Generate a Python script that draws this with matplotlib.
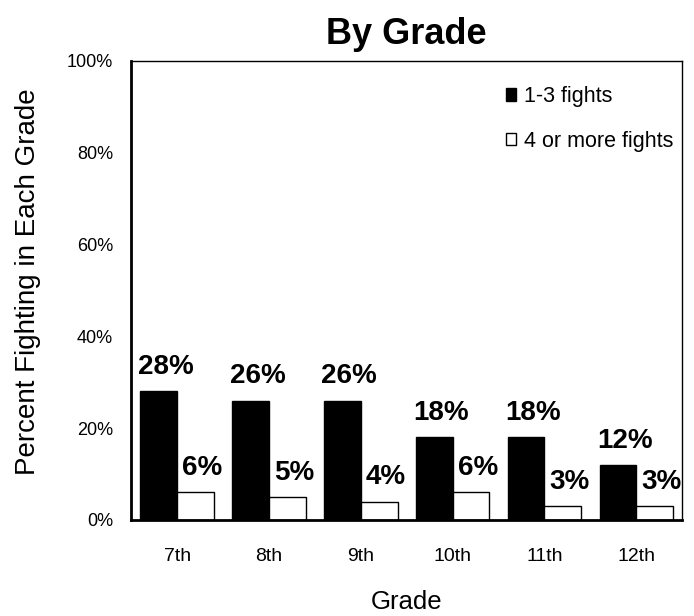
import numpy as np
import matplotlib.pyplot as plt

plt.rcParams['font.family'] = ['Liberation Sans', 'DejaVu Sans']

grades = ['7th', '8th', '9th', '10th', '11th', '12th']
fights_1_3 = [28, 26, 26, 18, 18, 12]
fights_4_plus = [6, 5, 4, 6, 3, 3]

fig = plt.figure(figsize=(6.94, 6.16), dpi=100)
ax = fig.add_axes([0.189, 0.156, 0.794, 0.745])

x = np.arange(len(grades))
w = 0.4
b1 = ax.bar(x - w / 2, fights_1_3, w, color='black', edgecolor='black', linewidth=1, label='1-3 fights')
b2 = ax.bar(x + w / 2, fights_4_plus, w, color='white', edgecolor='black', linewidth=1, label='4 or more fights')

for bars, vals in [(b1, fights_1_3), (b2, fights_4_plus)]:
    for bar, v in zip(bars, vals):
        ax.annotate(f'{v}%', (bar.get_x() + bar.get_width() / 2, v),
                    xytext=(5, 8), textcoords='offset points',
                    ha='center', va='bottom', fontsize=20, fontweight='bold')

ax.set_xlim(-0.5, len(grades) - 0.5)
ax.set_ylim(0, 100)
ax.set_yticks(range(0, 101, 20))
ax.set_yticklabels([f'{t}%' for t in range(0, 101, 20)], fontsize=13)
ax.set_xticks(x)
ax.set_xticklabels(grades, fontsize=14)
ax.tick_params(length=0)
ax.tick_params(axis='x', pad=20)
ax.tick_params(axis='y', pad=13)

ax.spines['left'].set_linewidth(2)
ax.spines['bottom'].set_linewidth(2)
ax.spines['top'].set_linewidth(1)
ax.spines['right'].set_linewidth(1)

ax.set_title('By Grade', fontsize=26, fontweight='bold', pad=12)
ax.set_xlabel('Grade', fontsize=18.5, labelpad=18)
ax.set_ylabel('Percent Fighting in Each Grade', fontsize=20)
ax.yaxis.set_label_coords(-0.163, 0.52)

ax.legend(loc='upper right', frameon=False, fontsize=15.5, handlelength=0.5,
          handleheight=0.5, handletextpad=0.35, labelspacing=1.1,
          borderpad=0, borderaxespad=0, bbox_to_anchor=(0.984, 0.945))

plt.savefig('out.png', dpi=100)
